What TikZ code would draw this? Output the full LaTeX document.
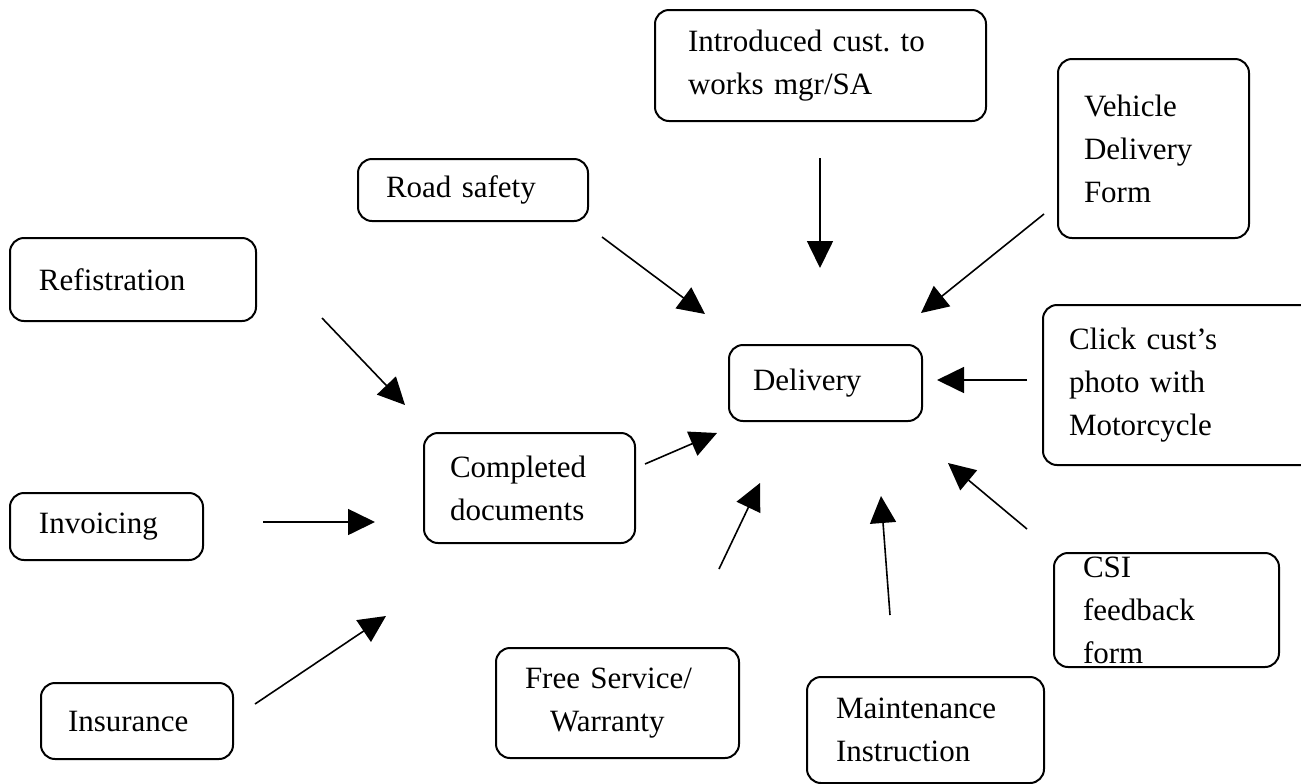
\documentclass[tikz,border=0pt]{standalone}
\usepackage{fontspec}
\setmainfont{Liberation Serif}
\usetikzlibrary{arrows.meta}
\frenchspacing

\begin{document}
\begin{tikzpicture}[x=0.5pt, y=-0.5pt,
	box/.style={draw, line width=1pt, rounded corners=7pt, anchor=north west, align=left, inner ysep=0pt, font=\fontsize{15.5pt}{21.5pt}\selectfont},
	arr/.style={-{Triangle[length=13.5pt, width=13pt]}, line width=0.8pt}]
	\useasboundingbox (0, 0) rectangle (1301, 783);

	% the boxes
	\node[box, text width=132.5pt, inner xsep=16.5pt, minimum height=55.5pt] (intro) at (654, 9) {Introduced cust. to\\works mgr/SA};
	\node[box, text width=69.5pt, inner xsep=13pt, minimum height=89.5pt] (vehicle) at (1057, 58) {Vehicle\\Delivery\\Form};
	\node[box, text width=87pt, inner xsep=14pt, minimum height=31pt] (road) at (357, 158) {Road safety};
	\node[box, text width=94pt, inner xsep=14.5pt, minimum height=41.5pt] (refis) at (9, 237) {Refistration};
	\node[box, text width=72.5pt, inner xsep=12pt, minimum height=38pt] (delivery) at (728, 344) {Delivery};
	\node[box, text width=111pt, inner xsep=13pt, minimum height=80pt] (click) at (1042, 304) {Click cust’s\\photo with\\Motorcycle};
	\node[box, text width=79.5pt, inner xsep=13pt, minimum height=55pt] (completed) at (423, 432) {Completed\\documents};
	\node[box, text width=67.5pt, inner xsep=14.5pt, minimum height=33.5pt] (invoice) at (9, 492) {Invoicing};
	\node[box, text width=83.5pt, inner xsep=14.5pt, minimum height=57pt] (csi) at (1053, 552) {CSI\\feedback\\form};
	\node[box, text width=69pt, inner xsep=13.5pt, minimum height=38pt] (insure) at (40, 682) {Insurance};
	\node[box, text width=92.5pt, inner xsep=14.5pt, minimum height=55pt] (freeserv) at (495, 647) {Free Service/\\\hspace*{12.5pt}Warranty};
	\node[box, text width=89.5pt, inner xsep=14.5pt, minimum height=53pt] (maint) at (806, 676) {Maintenance\\Instruction};

	% loose ends of the arrows
	\coordinate (refis-out) at (322, 318);
	\coordinate (refis-in) at (405, 405);
	\coordinate (road-out) at (602, 237);
	\coordinate (road-in) at (705, 314);
	\coordinate (intro-out) at (820, 158);
	\coordinate (intro-in) at (820, 268);
	\coordinate (vehicle-out) at (1044, 214);
	\coordinate (vehicle-in) at (921, 313);
	\coordinate (click-out) at (1027, 380);
	\coordinate (click-in) at (937, 380);
	\coordinate (csi-out) at (1027, 529);
	\coordinate (csi-in) at (948, 463);
	\coordinate (maint-out) at (890, 615);
	\coordinate (maint-in) at (881, 496);
	\coordinate (freeserv-out) at (719, 569);
	\coordinate (freeserv-in) at (760, 483);
	\coordinate (completed-out) at (645, 464);
	\coordinate (completed-in) at (717, 433);
	\coordinate (invoice-out) at (263, 522);
	\coordinate (invoice-in) at (375, 522);
	\coordinate (insure-out) at (255, 704);
	\coordinate (insure-in) at (386, 616);

	\draw[arr] (refis-out) -- (refis-in);
	\draw[arr] (road-out) -- (road-in);
	\draw[arr] (intro-out) -- (intro-in);
	\draw[arr] (vehicle-out) -- (vehicle-in);
	\draw[arr] (click-out) -- (click-in);
	\draw[arr] (csi-out) -- (csi-in);
	\draw[arr] (maint-out) -- (maint-in);
	\draw[arr] (freeserv-out) -- (freeserv-in);
	\draw[arr] (completed-out) -- (completed-in);
	\draw[arr] (invoice-out) -- (invoice-in);
	\draw[arr] (insure-out) -- (insure-in);
\end{tikzpicture}
\end{document}
